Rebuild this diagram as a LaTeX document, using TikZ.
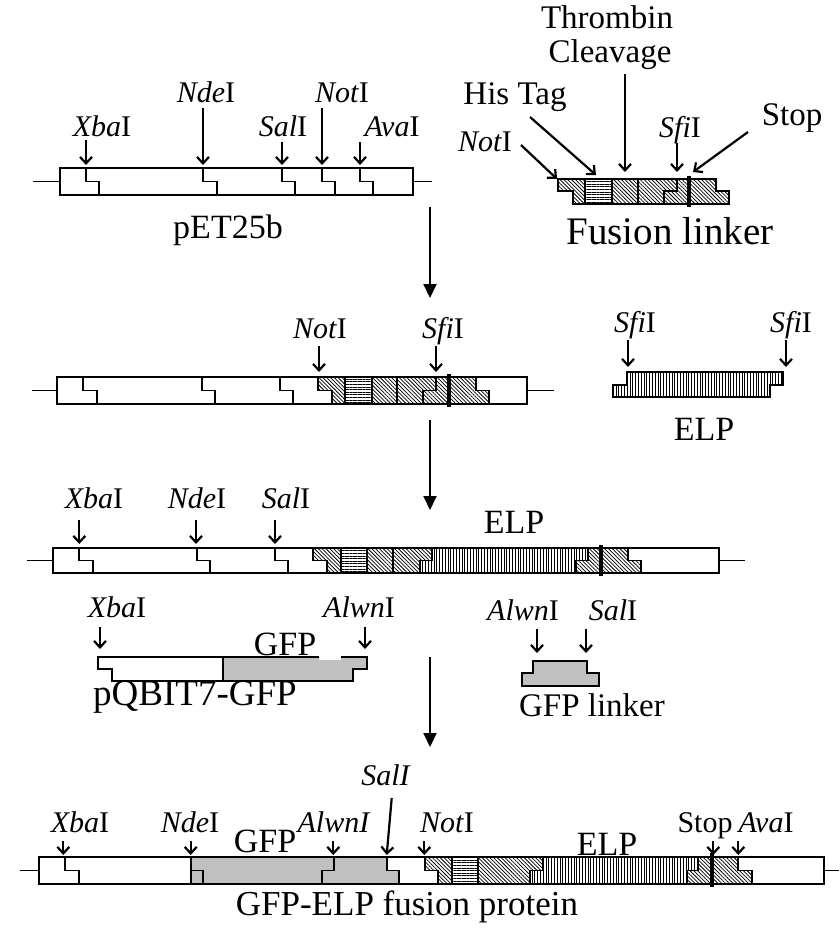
\documentclass[tikz,border=0pt]{standalone}
\usepackage{fontspec}
\setmainfont{Liberation Serif}
\usetikzlibrary{arrows.meta,patterns.meta}
\definecolor{gfpgray}{RGB}{192,192,192}
\newcommand\stp[5]{\draw[box] (#1,#3) -- (#1,#4) -- (#2,#4) -- (#2,#5);}
\newcommand\cutar[4]{\coordinate (#1a) at (#2,#3); \coordinate (#1b) at (#2,#4); \draw[cut] (#1a) -- (#1b);}
\begin{document}
\begin{tikzpicture}[x=1pt,y=-1pt]
\tikzset{
 box/.style={draw=black, line width=1.7pt, line join=miter},
 wire/.style={draw, line width=1.4pt},
 hatchfill/.style={pattern={Lines[angle=-45,distance=2.7pt,line width=0.75pt]}},
 hisfill/.style={pattern={Lines[angle=0,distance=2.6pt,line width=0.75pt]}},
 elpfill/.style={pattern={Lines[angle=90,distance=2.8pt,line width=0.75pt]}},
 gfpfill/.style={fill=gfpgray},
 cut/.style={draw, line width=2.2pt, -{Straight Barb[length=6.5pt,width=12pt,line width=2.2pt]}},
 flow/.style={draw, line width=2pt, -{Triangle[length=14pt,width=13pt]}},
 enz/.style={inner sep=0pt, anchor=base, font=\fontsize{30}{34}\selectfont},
 lbl/.style={inner sep=0pt, anchor=base, font=\fontsize{34}{38}\selectfont},
 stopbar/.style={draw, line width=3.8pt},
}
\useasboundingbox[fill=white] (0,0) rectangle (839,933);

% ---------------- Row 1: pET25b ----------------
\draw[wire] (33,181.5) -- (60,181.5);
\draw[wire] (413,181.5) -- (432,181.5);
\draw[box] (60,168) rectangle (413,195);
\stp{86}{99}{168}{181.5}{195}
\stp{203}{217}{168}{181.5}{195}
\stp{282}{295}{168}{181.5}{195}
\stp{322}{335}{168}{181.5}{195}
\stp{360}{373}{168}{181.5}{195}
\node[enz] (r1xba) at (102,137) {\textit{Xba}I};
\node[enz] (r1nde) at (206,103) {\textit{Nde}I};
\node[enz] (r1sal) at (283,137) {\textit{Sal}I};
\node[enz] (r1not) at (342,103) {\textit{Not}I};
\node[enz] (r1ava) at (392,137) {\textit{Ava}I};
\node[lbl] (pet) at (228,238) {pET25b};
\cutar{r1x}{86}{140}{165}
\cutar{r1n}{203}{108}{165}
\cutar{r1s}{282}{142}{165}
\cutar{r1t}{322}{108}{165}
\cutar{r1v}{360}{142}{165}

% ---------------- Fusion linker ----------------
\path[hatchfill] (558.3,179) -- (716,179) -- (716,191) -- (728.7,191) -- (728.7,204) -- (573.3,204) -- (573.3,191) -- (558.3,191) -- cycle;
\fill[white] (585,179) rectangle (611.7,204);
\path[hisfill] (585,179) rectangle (611.7,204);
\draw[box] (558.3,179) -- (716,179) -- (716,191) -- (728.7,191) -- (728.7,204) -- (573.3,204) -- (573.3,191) -- (558.3,191) -- cycle;
\draw[box] (585,179) -- (585,204);
\draw[box] (611.7,179) -- (611.7,204);
\draw[box] (638.3,179) -- (638.3,204);
\stp{676.7}{664}{179}{191}{204}
\draw[stopbar] (689.3,176) -- (689.3,207);
\node[lbl,font=\fontsize{33}{38}\selectfont] (thr) at (607,29) {Thrombin};
\node[lbl,font=\fontsize{33}{38}\selectfont] (clv) at (610,63) {Cleavage};
\node[lbl,font=\fontsize{33}{38}\selectfont] (his) at (515,105) {His Tag};
\node[enz] (fnot) at (485,152) {\textit{Not}I};
\node[enz] (fsfi) at (680,138) {\textit{Sfi}I};
\node[lbl,font=\fontsize{33}{38}\selectfont] (fstop) at (792,126) {Stop};
\node[lbl,font=\fontsize{39}{44}\selectfont] (fl) at (670,244) {Fusion linker};
\coordinate (thra) at (625,74); \coordinate (thrb) at (625,172);
\draw[cut] (thra) -- (thrb);
\coordinate (hisa) at (530,117); \coordinate (hisb) at (596,175);
\draw[cut] (hisa) -- (hisb);
\coordinate (fnota) at (521,145); \coordinate (fnotb) at (557,179);
\draw[cut] (fnota) -- (fnotb);
\cutar{fsf}{677}{143}{172}
\coordinate (fstopa) at (748,132); \coordinate (fstopb) at (693,172);
\draw[cut] (fstopa) -- (fstopb);

% ---------------- Row 2 ----------------
\draw[wire] (32,390.5) -- (57.3,390.5);
\draw[wire] (527.3,390.5) -- (554.3,390.5);
\path[hatchfill] (317.7,377) -- (345,377) -- (345,404) -- (331.7,404) -- (331.7,390.5) -- (317.7,390.5) -- cycle;
\path[hisfill] (345,377) rectangle (371.7,404);
\path[hatchfill] (371.7,377) -- (476,377) -- (476,390.5) -- (489,390.5) -- (489,404) -- (371.7,404) -- cycle;
\draw[box] (57.3,377) rectangle (527.3,404);
\stp{83.3}{96.7}{377}{390.5}{404}
\stp{201.7}{215}{377}{390.5}{404}
\stp{280}{293.3}{377}{390.5}{404}
\stp{317.7}{331.7}{377}{390.5}{404}
\stp{436}{423.3}{377}{390.5}{404}
\stp{476}{489}{377}{390.5}{404}
\draw[box] (345,377) -- (345,404);
\draw[box] (371.7,377) -- (371.7,404);
\draw[box] (396.7,377) -- (396.7,404);
\draw[stopbar] (449.3,374) -- (449.3,407);
\node[enz] (r2not) at (320,338) {\textit{Not}I};
\node[enz] (r2sfi) at (443,338) {\textit{Sfi}I};
\cutar{r2n}{319}{346}{372}
\cutar{r2s}{436}{346}{372}

% ELP piece
\path[elpfill] (626.7,371.7) -- (783.3,371.7) -- (783.3,385) -- (770,385) -- (770,397.3) -- (613.3,397.3) -- (613.3,385) -- (626.7,385) -- cycle;
\draw[box] (626.7,371.7) -- (783.3,371.7) -- (783.3,385) -- (770,385) -- (770,397.3) -- (613.3,397.3) -- (613.3,385) -- (626.7,385) -- cycle;
\node[enz] (esfi1) at (635,332) {\textit{Sfi}I};
\node[enz] (esfi2) at (791,332) {\textit{Sfi}I};
\cutar{es1}{628}{340}{367}
\cutar{es2}{786}{340}{367}
\node[lbl] (elp1) at (704,440) {ELP};

% ---------------- Row 3 ----------------
\draw[wire] (26.7,560.5) -- (53.3,560.5);
\draw[wire] (719,560.5) -- (745,560.5);
\path[hatchfill] (313.3,548) -- (340.7,548) -- (340.7,573) -- (326.7,573) -- (326.7,560.5) -- (313.3,560.5) -- cycle;
\path[hisfill] (340.7,548) rectangle (366.7,573);
\path[hatchfill] (366.7,548) -- (431.7,548) -- (431.7,560.5) -- (420,560.5) -- (420,573) -- (366.7,573) -- cycle;
\path[elpfill] (431.7,548) -- (588.3,548) -- (588.3,560.5) -- (576,560.5) -- (576,573) -- (420,573) -- (420,560.5) -- (431.7,560.5) -- cycle;
\path[hatchfill] (588.3,548) -- (628.3,548) -- (628.3,560.5) -- (640.7,560.5) -- (640.7,573) -- (576,573) -- (576,560.5) -- (588.3,560.5) -- cycle;
\draw[box] (53.3,548) rectangle (719,573);
\stp{79.3}{92.7}{548}{560.5}{573}
\stp{196.7}{210}{548}{560.5}{573}
\stp{275}{288.3}{548}{560.5}{573}
\stp{313.3}{326.7}{548}{560.5}{573}
\stp{431.7}{420}{548}{560.5}{573}
\stp{588.3}{576}{548}{560.5}{573}
\stp{628.3}{640.7}{548}{560.5}{573}
\draw[box] (340.7,548) -- (340.7,573);
\draw[box] (366.7,548) -- (366.7,573);
\draw[box] (392.7,548) -- (392.7,573);
\draw[stopbar] (601,545) -- (601,576);
\node[enz] (r3xba) at (94,508) {\textit{Xba}I};
\node[enz] (r3nde) at (197,508) {\textit{Nde}I};
\node[enz] (r3sal) at (286,508) {\textit{Sal}I};
\cutar{r3x}{79.3}{520}{544}
\cutar{r3n}{196}{520}{544}
\cutar{r3s}{275}{520}{544}
\node[lbl] (elp2) at (514,533) {ELP};

% ---------------- pQBIT7-GFP ----------------
\fill[white] (98.3,657.3) -- (222.7,657.3) -- (222.7,680.7) -- (111.7,680.7) -- (111.7,669.3) -- (98.3,669.3) -- cycle;
\path[gfpfill] (222.7,657.3) -- (366.7,657.3) -- (366.7,669.3) -- (353.3,669.3) -- (353.3,680.7) -- (222.7,680.7) -- cycle;
\draw[box] (98.3,657.3) -- (366.7,657.3) -- (366.7,669.3) -- (353.3,669.3) -- (353.3,680.7) -- (111.7,680.7) -- (111.7,669.3) -- (98.3,669.3) -- cycle;
\draw[box] (222.7,657.3) -- (222.7,680.7);
\fill[white] (319.3,650) rectangle (340.7,660);
\node[enz] (qxba) at (117,617) {\textit{Xba}I};
\node[enz] (qalw) at (359,617) {\textit{Alwn}I};
\node[lbl] (qgfp) at (285,655) {GFP};
\node[lbl,font=\fontsize{37}{42}\selectfont] (qbit) at (195,705) {pQBIT7-GFP};
\cutar{qx}{100}{627}{649}
\cutar{qa}{365}{627}{649}

% GFP linker
\path[gfpfill] (533.3,660.7) -- (586.7,660.7) -- (586.7,673.3) -- (599.3,673.3) -- (599.3,686) -- (521.7,686) -- (521.7,673.3) -- (533.3,673.3) -- cycle;
\draw[box] (533.3,660.7) -- (586.7,660.7) -- (586.7,673.3) -- (599.3,673.3) -- (599.3,686) -- (521.7,686) -- (521.7,673.3) -- (533.3,673.3) -- cycle;
\node[enz] (lalw) at (523,620) {\textit{Alwn}I};
\node[enz] (lsal) at (613,620) {\textit{Sal}I};
\node[lbl,font=\fontsize{33}{38}\selectfont] (glk) at (592,716) {GFP linker};
\cutar{la}{537}{629}{653}
\cutar{ls}{586}{629}{653}

% ---------------- Row 5: fusion protein ----------------
\draw[wire] (20,870.5) -- (39.3,870.5);
\draw[wire] (824.3,870.5) -- (839,870.5);
\path[gfpfill] (190.7,857) -- (386.7,857) -- (386.7,870.5) -- (399.3,870.5) -- (399.3,884) -- (190.7,884) -- cycle;
\path[hatchfill] (425,857) -- (451.7,857) -- (451.7,884) -- (438.3,884) -- (438.3,870.5) -- (425,870.5) -- cycle;
\path[hisfill] (451.7,857) rectangle (478.3,884);
\path[hatchfill] (478.3,857) -- (543.3,857) -- (543.3,870.5) -- (530,870.5) -- (530,884) -- (478.3,884) -- cycle;
\path[elpfill] (543.3,857) -- (698.3,857) -- (698.3,870.5) -- (686.7,870.5) -- (686.7,884) -- (530,884) -- (530,870.5) -- (543.3,870.5) -- cycle;
\path[hatchfill] (698.3,857) -- (738.3,857) -- (738.3,870.5) -- (751.7,870.5) -- (751.7,884) -- (686.7,884) -- (686.7,870.5) -- (698.3,870.5) -- cycle;
\draw[box] (39.3,857) rectangle (824.3,884);
\stp{65}{79.3}{857}{870.5}{884}
\draw[box] (190.7,857) -- (190.7,884);
\stp{190.7}{203.3}{857}{870.5}{884}
\stp{334}{321.7}{857}{870.5}{884}
\stp{386.7}{399.3}{857}{870.5}{884}
\stp{425}{438.3}{857}{870.5}{884}
\stp{543.3}{530}{857}{870.5}{884}
\stp{698.3}{686.7}{857}{870.5}{884}
\stp{738.3}{751.7}{857}{870.5}{884}
\draw[box] (451.7,857) -- (451.7,884);
\draw[box] (478.3,857) -- (478.3,884);
\draw[stopbar] (712.3,853) -- (712.3,887);
\node[enz] (r5xba) at (80,832) {\textit{Xba}I};
\node[enz] (r5nde) at (190,832) {\textit{Nde}I};
\node[enz] (r5alw) at (334,832) {\textit{AlwnI}};
\node[enz] (r5sal) at (386,785) {\textit{SalI}};
\node[enz] (r5not) at (447,832) {\textit{Not}I};
\node[enz] (r5stop) at (705,832) {Stop};
\node[enz] (r5ava) at (766,832) {\textit{Ava}I};
\node[lbl] (r5gfp) at (265,852) {GFP};
\node[lbl] (r5elp) at (607,855) {ELP};
\node[lbl,font=\fontsize{35}{40}\selectfont] (fusp) at (407,915) {GFP-ELP fusion protein};
\cutar{r5x}{63.3}{841}{855}
\cutar{r5n}{190.7}{841}{855}
\cutar{r5a}{333.3}{841}{855}
\cutar{r5t}{424.3}{841}{855}
\cutar{r5p}{713.3}{841}{855}
\cutar{r5v}{738.3}{841}{855}
\coordinate (r5sa) at (391.7,798); \coordinate (r5sb) at (386.7,855);
\draw[cut] (r5sa) -- (r5sb);

% ---------------- Flow arrows ----------------
\coordinate (f1a) at (430,207); \coordinate (f1b) at (430,298);
\coordinate (f2a) at (430,420); \coordinate (f2b) at (430,510);
\coordinate (f3a) at (430,657); \coordinate (f3b) at (430,747);
\draw[flow] (f1a) -- (f1b);
\draw[flow] (f2a) -- (f2b);
\draw[flow] (f3a) -- (f3b);
\end{tikzpicture}
\end{document}
